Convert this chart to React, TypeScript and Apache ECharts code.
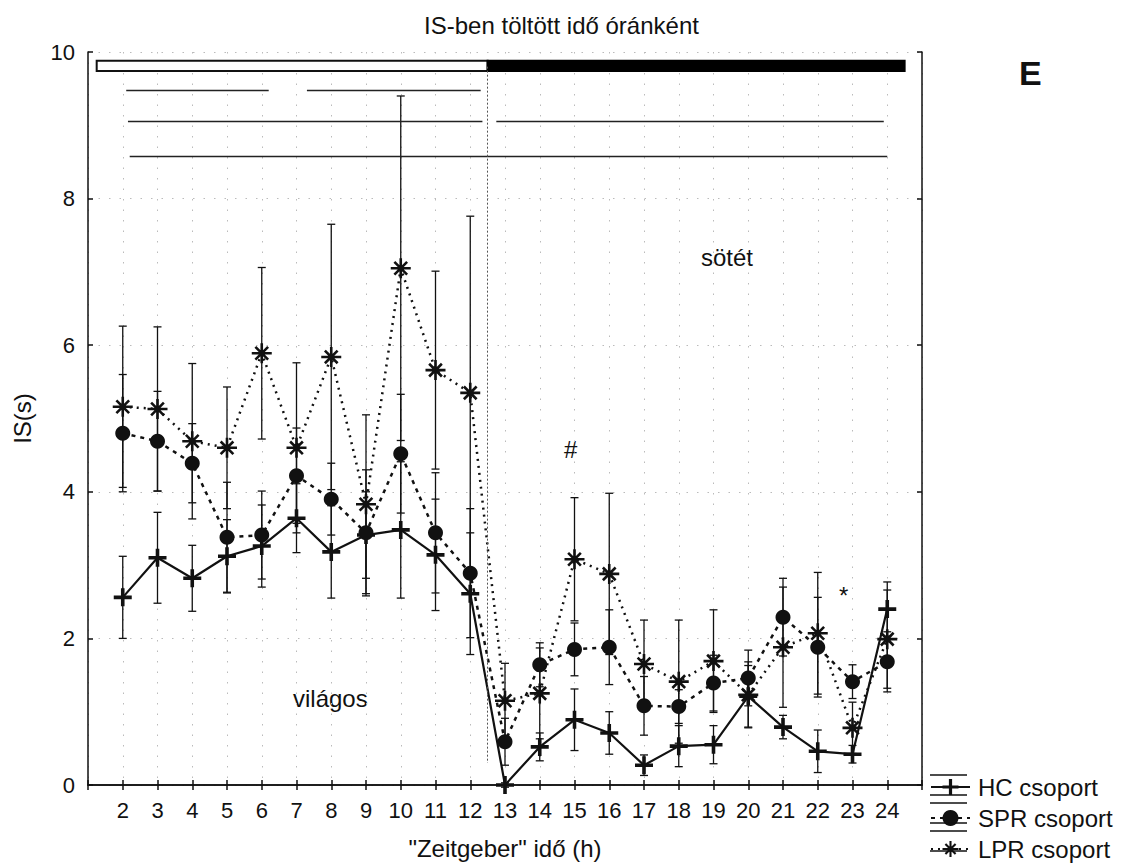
import React, { useEffect, useRef } from "react";
import * as echarts from "echarts";

// Zeitgeber hours on the x axis
const hours = [2, 3, 4, 5, 6, 7, 8, 9, 10, 11, 12, 13, 14, 15, 16, 17, 18, 19, 20, 21, 22, 23, 24];

// Group means and standard errors (IS time, seconds)
const hcMean = [2.56, 3.1, 2.82, 3.12, 3.26, 3.64, 3.18, 3.41, 3.48, 3.14, 2.61, 0.0, 0.52, 0.89, 0.71, 0.27, 0.53, 0.55, 1.21, 0.79, 0.46, 0.42, 2.4];
const hcErr = [0.56, 0.62, 0.45, 0.5, 0.56, 0.47, 0.63, 0.59, 0.93, 0.76, 0.83, 0.03, 0.19, 0.42, 0.29, 0.14, 0.28, 0.26, 0.42, 0.16, 0.29, 0.12, 0.37];

const sprMean = [4.8, 4.69, 4.39, 3.38, 3.41, 4.22, 3.9, 3.44, 4.52, 3.44, 2.89, 0.59, 1.64, 1.85, 1.88, 1.08, 1.07, 1.39, 1.46, 2.29, 1.88, 1.41, 1.68];
const sprErr = [0.8, 0.68, 0.54, 0.75, 0.6, 0.65, 0.49, 0.86, 0.81, 0.82, 0.88, 0.32, 0.3, 0.36, 0.51, 0.4, 0.23, 0.38, 0.38, 0.53, 0.68, 0.23, 0.41];

const lprMean = [5.16, 5.13, 4.69, 4.6, 5.89, 4.6, 5.84, 3.83, 7.05, 5.66, 5.35, 1.15, 1.25, 3.08, 2.88, 1.65, 1.41, 1.69, 1.23, 1.88, 2.07, 0.78, 1.99];
const lprErr = [1.1, 1.12, 1.06, 0.83, 1.17, 1.16, 1.81, 1.22, 2.35, 1.35, 2.41, 0.51, 0.62, 0.84, 1.1, 0.6, 0.84, 0.7, 0.45, 0.82, 0.83, 0.35, 0.67];

const groupNames = ["HC csoport", "SPR csoport", "LPR csoport"];
const yTicks = [0, 2, 4, 6, 8, 10];

// Significance brackets: [from hour, to hour, level]
const sigLines = [
  [2.1, 6.2, 9.48],
  [7.3, 12.3, 9.48],
  [2.15, 12.35, 9.05],
  [12.75, 23.9, 9.05],
  [2.2, 24.0, 8.58],
];
// Light / dark phase bar: [from hour, to hour]
const lightPhase = [1.25, 12.5];
const darkPhase = [12.5, 24.5];
const phaseBarLevel = [9.74, 9.88];
const phaseBoundary = 12.5;
const boundaryRange = [0.3, 9.8];

const FONT = "'Liberation Sans', Arial, sans-serif";
const INK = "#111";

const PLUS = "path://M8,0H12V8H20V12H12V20H8V12H0V8H8Z";
const STAR =
  "path://M0,8.7L20,8.7L20,11.3L0,11.3Z" +
  "M8.7,0L11.3,0L11.3,20L8.7,20Z" +
  "M4.56,2.72L17.28,15.44L15.44,17.28L2.72,4.56Z" +
  "M2.72,15.44L15.44,2.72L17.28,4.56L4.56,17.28Z";

function errData(mean: number[], err: number[]) {
  return hours.map((h, i) => [h, mean[i] - err[i], mean[i] + err[i]]);
}

function renderErr(params: any, api: any) {
  const x = api.value(0);
  const lo = api.coord([x, api.value(1)]);
  const hi = api.coord([x, api.value(2)]);
  const w = 4;
  const style = { stroke: INK, lineWidth: 1.3 };
  return {
    type: "group",
    children: [
      { type: "line", shape: { x1: lo[0], y1: lo[1], x2: hi[0], y2: hi[1] }, style },
      { type: "line", shape: { x1: lo[0] - w, y1: lo[1], x2: lo[0] + w, y2: lo[1] }, style },
      { type: "line", shape: { x1: hi[0] - w, y1: hi[1], x2: hi[0] + w, y2: hi[1] }, style },
    ],
  };
}

function lineData(mean: number[]) {
  return hours.map((h, i) => [h, mean[i]]);
}

export default function App() {
  const ref = useRef<HTMLDivElement>(null);

  useEffect(() => {
    if (!ref.current) return;
    const chart = echarts.init(ref.current, null, { renderer: "svg" });

    const axisLine = { lineStyle: { color: INK, width: 1.5 } };
    const axisTick = { inside: true, length: 5, lineStyle: { color: INK, width: 1.5 } };

    const markLineData: any[] = sigLines.map(([a, b, y]) => [
      { coord: [a, y], lineStyle: { color: "#222", width: 1.4, type: "solid" } },
      { coord: [b, y] },
    ]);
    markLineData.push([
      { coord: [phaseBoundary, boundaryRange[1]], lineStyle: { color: "#555", width: 1, type: [2, 2] } },
      { coord: [phaseBoundary, boundaryRange[0]] },
    ]);

    const option: any = {
      animation: false,
      title: {
        text: "IS-ben töltött idő óránként",
        left: "center",
        top: 8,
        textStyle: { fontFamily: FONT, fontSize: 24, fontWeight: "normal", color: INK },
      },
      grid: { left: 88, right: 201, top: 52, bottom: 80 },
      xAxis: [
        {
          type: "value",
          min: 1,
          max: 25,
          interval: 1,
          position: "bottom",
          axisLine,
          axisTick,
          axisLabel: {
            fontFamily: FONT,
            fontSize: 22,
            color: INK,
            margin: 14,
            formatter: (v: number) => (hours.includes(v) ? String(v) : ""),
          },
          splitLine: { show: true, lineStyle: { color: "#bbb", width: 1, type: [1.5, 9] } },
          name: '"Zeitgeber" idő (h)',
          nameLocation: "middle",
          nameGap: 51,
          nameTextStyle: { fontFamily: FONT, fontSize: 24, color: INK },
        },
        {
          type: "value",
          min: 1,
          max: 25,
          interval: 1,
          position: "top",
          axisLine,
          axisTick,
          axisLabel: { show: false },
          splitLine: { show: false },
        },
      ],
      yAxis: [
        {
          type: "value",
          min: yTicks[0],
          max: yTicks[yTicks.length - 1],
          interval: 2,
          axisLine: { show: true, ...axisLine },
          axisTick: { show: true, ...axisTick },
          axisLabel: { fontFamily: FONT, fontSize: 22, color: INK, margin: 13 },
          splitLine: { show: true, lineStyle: { color: "#bbb", width: 1, type: [1.5, 9] } },
          name: "IS(s)",
          nameLocation: "middle",
          nameGap: 54,
          nameRotate: 90,
          nameTextStyle: { fontFamily: FONT, fontSize: 24, color: INK },
        },
        {
          type: "value",
          position: "right",
          min: yTicks[0],
          max: yTicks[yTicks.length - 1],
          interval: 2,
          axisLine: { show: true, ...axisLine },
          axisTick: { show: true, ...axisTick },
          axisLabel: { show: false },
          splitLine: { show: false },
        },
      ],
      legend: {
        orient: "vertical",
        left: 929,
        top: 773,
        itemWidth: 39,
        itemHeight: 20,
        itemGap: 7,
        padding: [2, 6, 2, 1],
        backgroundColor: "#fff",
        data: groupNames,
        textStyle: { fontFamily: FONT, fontSize: 24, color: INK, padding: [0, 0, 0, 3] },
      },
      series: [
        { type: "custom", name: "hc-err", renderItem: renderErr, data: errData(hcMean, hcErr), z: 2, silent: true, encode: { x: 0, y: [1, 2] } },
        { type: "custom", name: "spr-err", renderItem: renderErr, data: errData(sprMean, sprErr), z: 2, silent: true, encode: { x: 0, y: [1, 2] } },
        { type: "custom", name: "lpr-err", renderItem: renderErr, data: errData(lprMean, lprErr), z: 2, silent: true, encode: { x: 0, y: [1, 2] } },
        {
          type: "line",
          name: groupNames[0],
          data: lineData(hcMean),
          z: 4,
          symbol: PLUS,
          symbolSize: 18,
          itemStyle: { color: INK },
          lineStyle: { color: INK, width: 2.2, type: "solid" },
          markLine: {
            silent: true,
            symbol: ["none", "none"],
            label: { show: false },
            emphasis: { disabled: true },
            data: markLineData,
          },
          markArea: {
            silent: true,
            data: [
              [
                { coord: [lightPhase[0], phaseBarLevel[1]], itemStyle: { color: "#fff", borderColor: INK, borderWidth: 2 } },
                { coord: [lightPhase[1], phaseBarLevel[0]] },
              ],
              [
                { coord: [darkPhase[0], phaseBarLevel[1]], itemStyle: { color: "#000", borderColor: "#000", borderWidth: 2 } },
                { coord: [darkPhase[1], phaseBarLevel[0]] },
              ],
            ],
          },
        },
        {
          type: "line",
          name: groupNames[1],
          data: lineData(sprMean),
          z: 4,
          symbol: "circle",
          symbolSize: 15,
          itemStyle: { color: INK },
          lineStyle: { color: INK, width: 2.5, type: [4, 5] },
        },
        {
          type: "line",
          name: groupNames[2],
          data: lineData(lprMean),
          z: 4,
          symbol: STAR,
          symbolSize: 20,
          itemStyle: { color: INK },
          lineStyle: { color: INK, width: 2.5, type: [2, 5] },
        },
      ],
      graphic: [
        { type: "text", left: 293, top: 686, style: { text: "világos", font: `24px ${FONT}`, fill: INK } },
        { type: "text", left: 701, top: 245, style: { text: "sötét", font: `24px ${FONT}`, fill: INK } },
        { type: "text", left: 564, top: 437, style: { text: "#", font: `24px ${FONT}`, fill: INK } },
        { type: "text", left: 839, top: 583, style: { text: "*", font: `24px ${FONT}`, fill: INK } },
        { type: "text", left: 1019, top: 56, style: { text: "E", font: `bold 34px ${FONT}`, fill: INK } },
        ...[785, 813, 841].flatMap((cy) => [
          { type: "line", z: 100, shape: { x1: 930, y1: cy - 10, x2: 967, y2: cy - 10 }, style: { stroke: INK, lineWidth: 1.5 } },
          { type: "line", z: 100, shape: { x1: 930, y1: cy + 10, x2: 967, y2: cy + 10 }, style: { stroke: INK, lineWidth: 1.5 } },
        ]),
      ],
    };

    chart.setOption(option);
    return () => chart.dispose();
  }, []);

  return (
    <div
      ref={ref}
      style={{ position: "fixed", left: 0, top: 0, width: 1123, height: 865, background: "#fff" }}
    />
  );
}
